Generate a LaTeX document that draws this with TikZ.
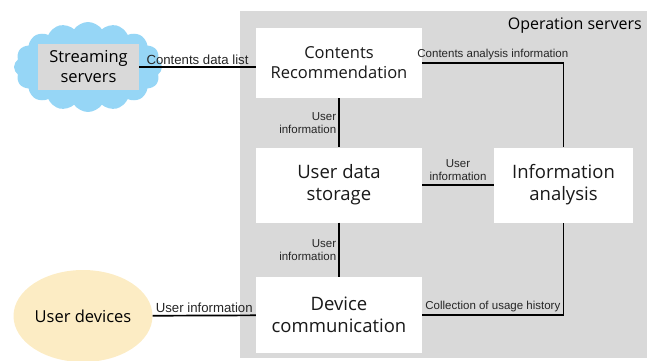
\documentclass[tikz,border=0pt]{standalone}
\usepackage{fontspec}
\setmainfont{Open Sans}
\newfontfamily\labelfont{Liberation Sans}
\usetikzlibrary{shapes.symbols,shapes.geometric}
\definecolor{opgray}{RGB}{217,217,217}
\definecolor{cloudblue}{RGB}{150,214,246}
\definecolor{devyellow}{RGB}{252,236,196}

\begin{document}
\begin{tikzpicture}[x=1pt,y=-1pt,
    box/.style={fill=white,inner sep=0pt,align=center,text=black!90,font=\fontsize{18.5}{22}\selectfont},
    link/.style={line width=1.7pt},
    lbl/.style={font=\labelfont\fontsize{11.5}{13}\selectfont,inner sep=2pt,text=black!85},
    lblbig/.style={lbl,font=\labelfont\fontsize{13.2}{15}\selectfont}]
            \useasboundingbox (0,0) rectangle (653,361);
            % operation servers area
            \fill[opgray] (240,11) rectangle (647,358);
            \node (op) at (642,30) [anchor=base east,inner sep=0pt,font=\fontsize{16}{19}\selectfont] {Operation servers};
            % outside parts
            \node (cloud) at (88,67) [cloud,cloud puffs=16,cloud puff arc=110,aspect=1.6,fill=cloudblue,minimum width=148pt,minimum height=90pt,inner sep=0pt] {};
            \node (ss) at (88.5,67) [fill=opgray,minimum width=101pt,minimum height=46pt,inner sep=0pt,align=center,font=\fontsize{16.5}{20}\selectfont] {Streaming\\servers};
            \node (ud) at (83,316) [ellipse,fill=devyellow,minimum width=139pt,minimum height=92pt,inner sep=0pt,font=\fontsize{16.5}{20}\selectfont] {User devices};
            % servers
            \node (cr) at (339,63) [box,minimum width=166pt,minimum height=70pt,font=\fontsize{16.5}{20}\selectfont] {Contents\\Recommendation};
            \node (uds) at (339,185) [box,minimum width=166pt,minimum height=75pt] {User data\\storage};
            \node (ia) at (563.5,185) [box,minimum width=139pt,minimum height=75pt] {Information\\analysis};
            \node (dc) at (339,315) [box,minimum width=166pt,minimum height=76pt] {Device\\communication};
            % connections
            \draw[link] (ss.east) -- (ss.east -| cr.west) node[lblbig,above,midway] {Contents data list};
            \draw[link] (cr) -- (uds) node[lbl,left,midway,align=right] {User\\information};
            \draw[link] (uds) -- (dc) node[lbl,left,midway,align=right] {User\\information};
            \draw[link] (uds) -- (ia) node[lbl,above,midway,align=center,yshift=2pt] {User\\information};
            \draw[link] (cr.east) -| (ia.north) node[lbl,above,pos=0.25] {Contents analysis information};
            \draw[link] (dc.east) -| (ia.south) node[lbl,above,pos=0.25] {Collection of usage history};
            \draw[link] (ud) -- (dc) node[lblbig,above,midway] {User information};
        \end{tikzpicture}
\end{document}
